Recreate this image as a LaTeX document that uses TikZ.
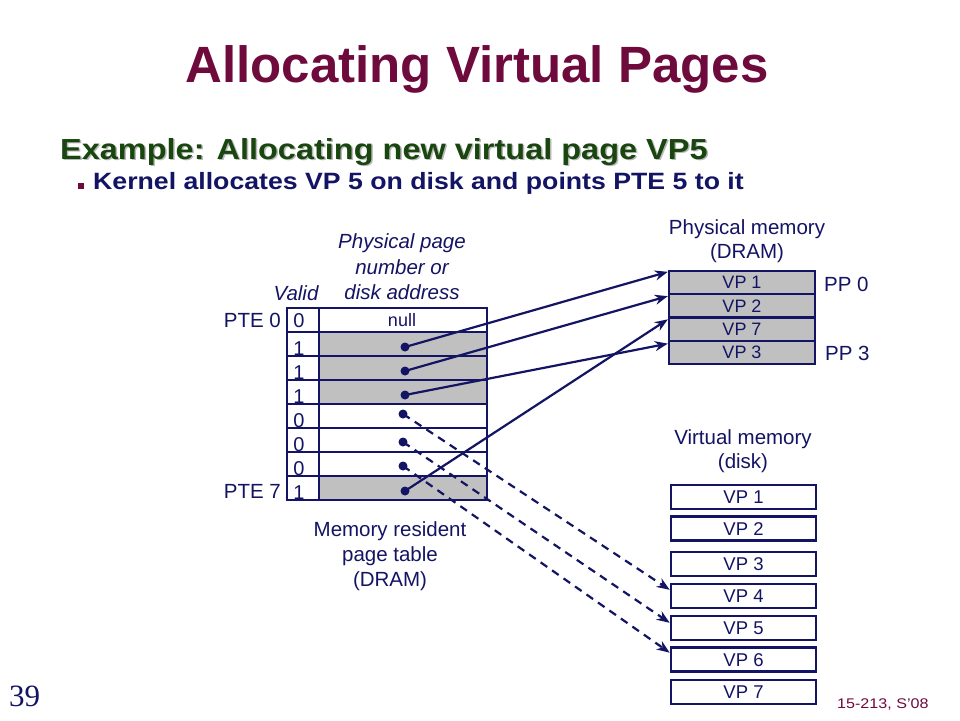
\documentclass[tikz,border=0pt]{standalone}
\usepackage{fontspec}
\setmainfont{Liberation Sans}
\newfontfamily\headfont{Liberation Sans}[FakeStretch=1.12]
\newfontfamily\bulfont{Liberation Sans}[FakeStretch=1.13]
\newfontfamily\footfont{Liberation Sans}[FakeStretch=1.15]
\newfontfamily\numfont{Liberation Serif}
\usetikzlibrary{arrows.meta,calc}
\definecolor{navyc}{RGB}{20,20,100}
\definecolor{titlered}{RGB}{110,10,60}
\definecolor{hgreen}{RGB}{25,70,15}
\definecolor{cellgray}{RGB}{192,192,192}
\definecolor{shadowgray}{RGB}{185,185,185}
\begin{document}
\begin{tikzpicture}[x=1pt,y=-1pt,
  lbl/.style={inner sep=0, text=navyc, font=\fontsize{20.5}{24}\selectfont},
  ilbl/.style={lbl, font=\fontsize{20.5}{24}\selectfont\itshape},
  cell/.style={draw=navyc, line width=2.3pt, minimum height=24pt, inner sep=0},
  digit/.style={inner sep=0, text=navyc, font=\fontsize{20}{22}\selectfont, anchor=base},
  dotn/.style={circle, fill=navyc, inner sep=0, minimum size=9pt},
  pbox/.style={draw=navyc, fill=cellgray, line width=2.3pt, minimum width=146pt, minimum height=23.25pt, inner sep=0, text=navyc, font=\fontsize{18}{20}\selectfont},
  dbox/.style={draw=navyc, fill=white, line width=2.6pt, minimum width=145pt, minimum height=24pt, inner sep=0, text=navyc, font=\fontsize{18.5}{20}\selectfont},
  arr/.style={draw=navyc, line width=2.2pt, -{Stealth[length=13pt,width=10pt]}},
  darr/.style={arr, dash pattern=on 8pt off 6pt}
]
\path[use as bounding box, fill=white] (0,0) rectangle (960,720);

% titles
\node[anchor=base, inner sep=0, text=titlered, font=\fontsize{51}{60}\selectfont\bfseries] (title) at (477,82) {Allocating Virtual Pages};
\node[anchor=base west, inner sep=0, text=shadowgray, font=\headfont\bfseries\fontsize{29}{32}\selectfont] (exs) at (61.5,160.5) {Example: Allocating new virtual page VP5};
\node[anchor=base west, inner sep=0, text=hgreen, font=\headfont\bfseries\fontsize{29}{32}\selectfont] (ex) at (60,159) {Example: Allocating new virtual page VP5};
\node[fill=titlered, minimum width=6pt, minimum height=6pt, inner sep=0] (bul) at (81,185.5) {};
\node[anchor=base west, inner sep=0, text=navyc, font=\bulfont\bfseries\fontsize{23.6}{26}\selectfont] (btxt) at (93,189) {Kernel allocates VP 5 on disk and points PTE 5 to it};

% page table
\foreach \i/\f in {0/white,1/cellgray,2/cellgray,3/cellgray,4/white,5/white,6/white,7/cellgray} {
  \node[cell, minimum width=168pt, fill=\f] (ptr\i) at (403,{320+24*\i}) {};
  \node[cell, minimum width=32pt, fill=white] (val\i) at (303,{320+24*\i}) {};
}
\node[digit] (b0) at (299,327.5) {0};
\foreach \i/\d in {1/1,2/1,3/1,4/0,5/0,6/0,7/1} {
  \node[digit] (b\i) at (299,{331+24*\i}) {\d};
}
\node[inner sep=0, text=navyc, font=\fontsize{18}{20}\selectfont, anchor=base] (null) at (402,326) {null};

\node[lbl, anchor=base east] (pte0) at (281,327) {PTE 0};
\node[lbl, anchor=base east] (pte7) at (281,498) {PTE 7};
\node[ilbl, anchor=base] (valid) at (296,300) {Valid};
\node[ilbl, anchor=base] (ppn1) at (402,248.5) {Physical page};
\node[ilbl, anchor=base] (ppn2) at (402,274) {number or};
\node[ilbl, anchor=base] (ppn3) at (402,299.5) {disk address};
\node[lbl, anchor=base] (mr1) at (390,536.5) {Memory resident};
\node[lbl, anchor=base] (mr2) at (390,561.5) {page table};
\node[lbl, anchor=base] (mr3) at (390,586) {(DRAM)};

% dots
\node[dotn] (d1) at (405,347) {};
\node[dotn] (d2) at (405,371) {};
\node[dotn] (d3) at (405,395) {};
\node[dotn] (d4) at (403,414) {};
\node[dotn] (d5) at (403,442) {};
\node[dotn] (d6) at (403,466) {};
\node[dotn] (d7) at (405,491) {};

% physical memory
\node[lbl, anchor=base] (pmt1) at (747,234.5) {Physical memory};
\node[lbl, anchor=base] (pmt2) at (747,258.5) {(DRAM)};
\node[pbox] (pm1) at (742,282.6) {VP 1};
\node[pbox] (pm2) at (742,305.9) {VP 2};
\node[pbox] (pm3) at (742,329.1) {VP 7};
\node[pbox] (pm4) at (742,352.4) {VP 3};
\node[lbl, anchor=base west] (pp0) at (824,291.5) {PP 0};
\node[lbl, anchor=base west] (pp3) at (825,360) {PP 3};

% virtual memory
\node[lbl, anchor=base] (vmt1) at (743,444) {Virtual memory};
\node[lbl, anchor=base] (vmt2) at (743,468) {(disk)};
\foreach \i/\y in {1/497,2/528.7,3/563.8,4/595.8,5/627.8,6/659.7,7/692} {
  \node[dbox] (dk\i) at (743.5,\y) {VP \i};
}

% arrows
\draw[arr] (d1.center) -- ($(pm1.north west)+(0,2)$);
\draw[arr] (d2.center) -- ($(pm2.north west)+(0,3)$);
\draw[arr] (d3.center) -- ($(pm4.north west)+(0,4)$);
\draw[arr] (d7.center) -- ($(pm3.north west)+(0,3)$);
\draw[darr] (d4.center) -- ($(dk4.west)+(0,-6)$);
\draw[darr] (d5.center) -- ($(dk5.west)+(0,-5)$);
\draw[darr] (d6.center) -- ($(dk6.west)+(0,-7)$);

% footer
\node[anchor=base west, inner sep=0, text=navyc, font=\numfont\fontsize{31}{34}\selectfont] (pg) at (9,706) {39};
\node[anchor=base west, inner sep=0, text=titlered, font=\footfont\fontsize{14}{16}\selectfont] (crs) at (837,708) {15-213, S’08};
\end{tikzpicture}
\end{document}
